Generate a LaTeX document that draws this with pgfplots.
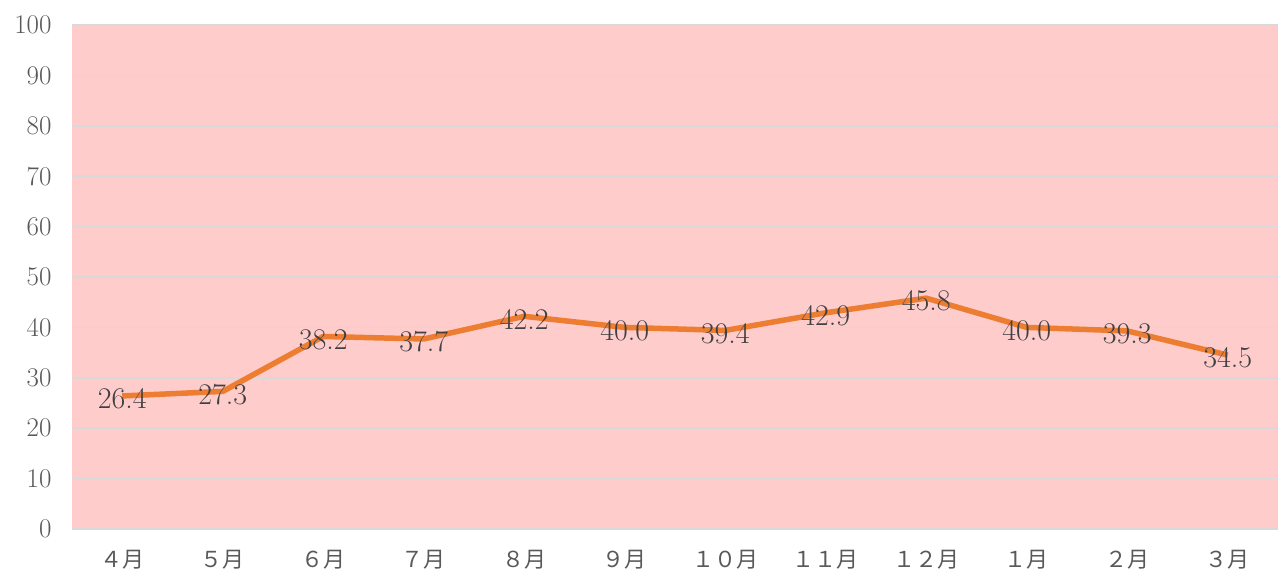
\documentclass[border=0pt]{standalone}
\usepackage{fontspec}
\usepackage{pgfplots}
\pgfplotsset{compat=1.18}
\newfontfamily\jp{Noto Sans CJK JP}
\definecolor{bgpink}{HTML}{FFCCCC}
\definecolor{gridc}{HTML}{D9D9D9}
\definecolor{lineor}{HTML}{ED7D31}
\definecolor{txt}{HTML}{595959}
\definecolor{lbl}{HTML}{404040}
\begin{document}
\begin{tikzpicture}[x=1pt,y=1pt]
\path[use as bounding box] (0,0) rectangle (1280,571);
\begin{axis}[
  at={(72pt,42pt)}, anchor=south west,
  scale only axis, width=1206pt, height=504pt,
  xmin=-0.5, xmax=11.5, ymin=0, ymax=100,
  ytick={0,10,...,100},
  xtick={0,...,11},
  xticklabels={{\jp ４月},{\jp ５月},{\jp ６月},{\jp ７月},{\jp ８月},{\jp ９月},{\jp １０月},{\jp １１月},{\jp １２月},{\jp １月},{\jp ２月},{\jp ３月}},
  /pgf/number format/assume math mode=true,
  axis background/.style={fill=bgpink},
  ymajorgrids, grid style={gridc, line width=1.5pt},
  axis x line*=bottom, axis y line*=left,
  x axis line style={gridc, line width=1.5pt, -},
  y axis line style={draw=none},
  major tick length=0pt,
  tick style={draw=none},
  yticklabel style={font=\fontsize{27}{32}\selectfont, text=txt, anchor=east, xshift=-17pt},
  xticklabel style={font=\fontsize{22}{26}\selectfont, text=txt, yshift=-18pt},
  clip=false,
  nodes near coords,
  every node near coord/.append style={font=\fontsize{30}{34}\selectfont, text=lbl, anchor=center, yshift=-3pt},
  point meta=explicit symbolic,
]
\addplot[lineor, line width=5.5pt, line join=round, mark=none] coordinates {
 (0,26.4) [26.4] (1,27.3) [27.3] (2,38.2) [38.2] (3,37.7) [37.7] (4,42.2) [42.2] (5,40.0) [40.0]
 (6,39.4) [39.4] (7,42.9) [42.9] (8,45.8) [45.8] (9,40.0) [40.0] (10,39.3) [39.3] (11,34.5) [34.5]
};
\end{axis}
\end{tikzpicture}
\end{document}
